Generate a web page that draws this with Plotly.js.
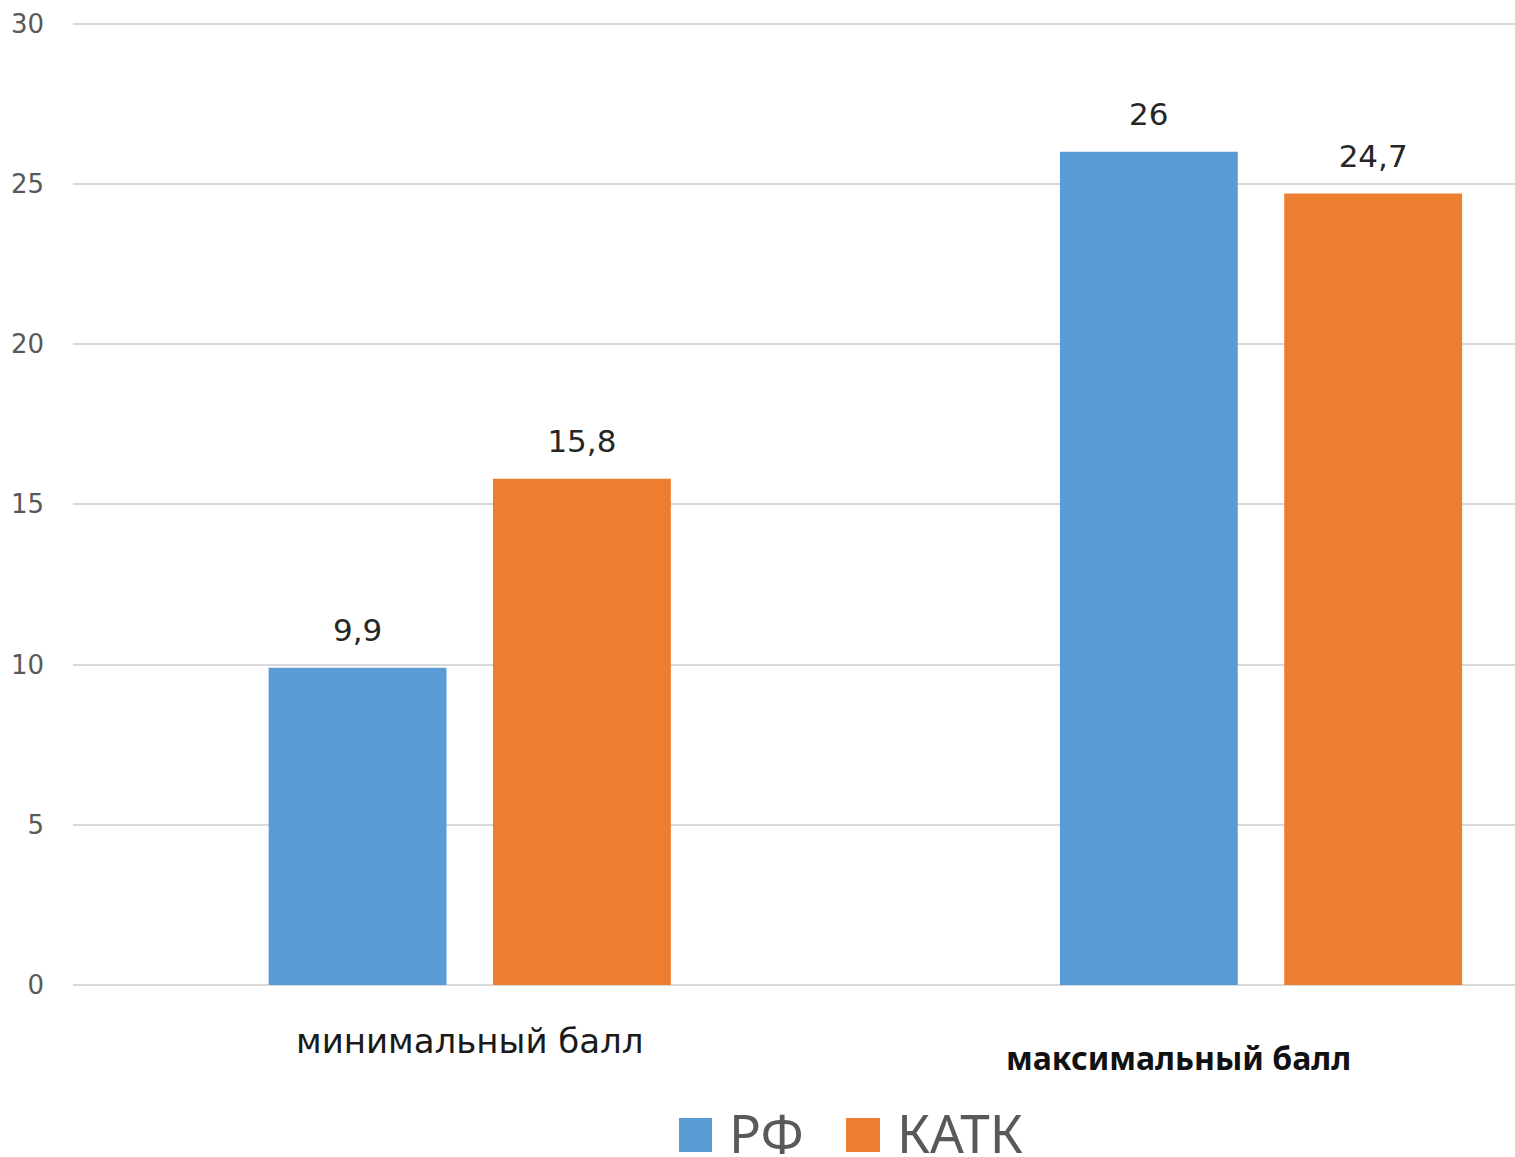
<!DOCTYPE html>
<html><head><meta charset="utf-8">
<script src="https://cdn.plot.ly/plotly-3.0.1.min.js"></script>
<style>html,body{margin:0;padding:0;background:#fff;}#chart{width:1515px;height:1157px;}</style>
</head><body><div id="chart"></div>
<script>
const categories = ["минимальный балл", "максимальный балл"];
const seriesNames = ["РФ", "КАТК"];
const valuesRF = [9.9, 26];
const valuesKATK = [15.8, 24.7];
const yTicks = [0, 5, 10, 15, 20, 25, 30];
const colors = ["#5B9BD5", "#ED7D31"];

const fmt = v => String(v).replace('.', ',');
const idx = categories.map((c, i) => i);
const series = [valuesRF, valuesKATK];

const traces = [];
series.forEach((vals, k) => {
  traces.push({
    type: 'bar', x: idx, y: vals, name: seriesNames[k],
    offsetgroup: 'g' + k, alignmentgroup: 'a',
    marker: {color: colors[k]},
    hoverinfo: 'skip', showlegend: false
  });
});
series.forEach((vals, k) => {
  traces.push({
    type: 'scatter', mode: 'markers+text', x: idx, y: vals, name: seriesNames[k] + ' labels',
    offsetgroup: 'g' + k, alignmentgroup: 'a',
    marker: {size: 29, opacity: 0, color: colors[k]},
    text: vals.map(fmt), textposition: 'top center', cliponaxis: false,
    textfont: {family: 'DejaVu Sans, sans-serif', size: 31, color: '#262626'},
    hoverinfo: 'skip', showlegend: false
  });
});

const pl = 73, pr = 0, pt = 22.4, pb = 172;
const W = 1515, H = 1157;
const pw = W - pl - pr, ph = H - pt - pb;
const px = x => (x - pl) / pw;
const py = y => -(y - (H - pb)) / ph;

const annotations = [
  {x: 0, xref: 'x', y: py(1041), yref: 'paper', text: categories[0], showarrow: false,
   xanchor: 'center', yanchor: 'middle',
   font: {family: 'DejaVu Sans, sans-serif', size: 34, color: '#1a1a1a'}},
  {x: 1, xref: 'x', xshift: -83, y: py(1057), yref: 'paper', text: '<b>' + categories[1] + '</b>', showarrow: false,
   xanchor: 'center', yanchor: 'middle',
   font: {family: 'Noto Sans, sans-serif', size: 32, color: '#111111'}}
];
const legX = [[679, 712, 730], [846, 880, 898]];
const shapes = [];
seriesNames.forEach((n, k) => {
  shapes.push({type: 'rect', xref: 'paper', yref: 'paper',
    x0: px(legX[k][0]), x1: px(legX[k][1]), y0: py(1118), y1: py(1152),
    fillcolor: colors[k], line: {width: 0}});
  annotations.push({x: px(legX[k][2] - 3), xref: 'paper', y: py(1132), yref: 'paper',
    text: n, showarrow: false, xanchor: 'left', yanchor: 'middle',
    font: {family: 'Noto Sans, sans-serif', size: 53, color: '#595959'}});
});

const layout = {
  width: W, height: H,
  margin: {l: pl, r: pr, t: pt, b: pb, pad: 0},
  paper_bgcolor: '#fff', plot_bgcolor: '#fff',
  barmode: 'group', bargap: 0.433, bargroupgap: 0.207,
  scattermode: 'group', scattergap: 0.433,
  showlegend: false,
  xaxis: {type: 'linear', range: [-0.5014, 1.321], showticklabels: false,
    showgrid: false, zeroline: false, showline: false, ticks: ''},
  yaxis: {range: [0, 30.05], tickvals: yTicks, ticktext: yTicks.map(String),
    showgrid: true, gridcolor: '#d9d9d9', gridwidth: 2,
    zeroline: true, zerolinecolor: '#d9d9d9', zerolinewidth: 2,
    showline: false, ticks: '', ticklabelstandoff: 28,
    tickfont: {family: 'DejaVu Sans, sans-serif', size: 26, color: '#595959'}},
  annotations: annotations, shapes: shapes,
  font: {family: 'DejaVu Sans, sans-serif'}
};
Plotly.newPlot('chart', traces, layout, {displayModeBar: false, staticPlot: true});
</script></body></html>
